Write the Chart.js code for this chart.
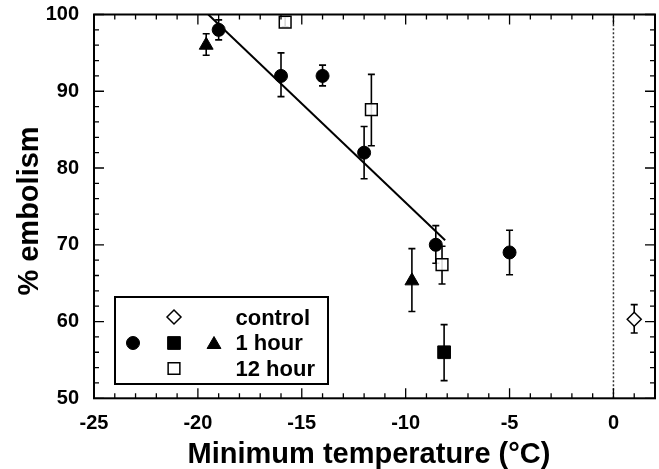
<!DOCTYPE html>
<html><head><meta charset="utf-8">
<script src="https://cdn.jsdelivr.net/npm/chart.js@4"></script>
<style>html,body{margin:0;padding:0;background:#fff}#wrap{width:659px;height:469px;position:relative}</style>
</head><body><div id="wrap"><canvas id="c" width="659" height="469"></canvas></div>
<script>
// ---- data ----
const ctrlX = [1],     ctrlY = [60.3], ctrlLo = [58.5], ctrlHi = [62.2];
const circX = [-19, -16, -14, -12, -8.55, -5];
const circY = [98, 92, 92, 82, 70, 69];
const circLo = [96.7, 89.3, 90.7, 78.6, 67.6, 66.1];
const circHi = [99.3, 95.0, 93.4, 85.4, 72.5, 71.9];
const triX = [-19.6, -9.7], triY = [96, 65.3], triLo = [94.7, 61.3], triHi = [97.5, 69.5];
const sqX = [-8.15], sqY = [56], sqLo = [52.3], sqHi = [59.6];
const openX = [-15.8, -11.65, -8.25], openY = [99, 87.6, 67.4];
const openLo = [98.4, 82.9, 64.9], openHi = [99.7, 92.2, 69.8];
const fitX = [-19.5, -8.1], fitY = [100, 70.6];
const zeroX = [0, 0], zeroY = [50, 100];
const xTicks = [-25, -20, -15, -10, -5, 0];
const yTicks = [50, 60, 70, 80, 90, 100];
const legendLabels = ['control', '1 hour', '12 hour'];
const xTitle = 'Minimum temperature (°C)';
const yTitle = '% embolism';

const FONT = "'Liberation Sans', Arial, Helvetica, sans-serif";
const pts = (xs, ys) => xs.map((x, i) => ({x: x, y: ys[i]}));

const drawMarker = (ctx, style, r, x, y, fill, bw) => {
  ctx.save();
  ctx.fillStyle = fill; ctx.strokeStyle = '#000'; ctx.lineWidth = bw;
  if (Chart.helpers && Chart.helpers.drawPoint) {
    Chart.helpers.drawPoint(ctx, {pointStyle: style, radius: r, borderWidth: bw, rotation: 0}, x, y);
  } else {
    ctx.beginPath(); ctx.arc(x, y, r, 0, Math.PI * 2); ctx.fill(); ctx.stroke();
  }
  ctx.restore();
};

const customPlugin = {
  id: 'custom',
  beforeDatasetsDraw(chart) {
    const ctx = chart.ctx, xs = chart.scales.x, ys = chart.scales.y;
    ctx.save();
    ctx.strokeStyle = '#000'; ctx.lineWidth = 1.6;
    chart.data.datasets.forEach(ds => {
      if (!ds.lo) return;
      ds.data.forEach((p, i) => {
        const px = xs.getPixelForValue(p.x);
        const yl = ys.getPixelForValue(ds.lo[i]);
        const yh = ys.getPixelForValue(ds.hi[i]);
        ctx.beginPath();
        ctx.moveTo(px, yl); ctx.lineTo(px, yh);
        ctx.moveTo(px - 3.5, yl); ctx.lineTo(px + 3.5, yl);
        ctx.moveTo(px - 3.5, yh); ctx.lineTo(px + 3.5, yh);
        ctx.stroke();
      });
    });
    ctx.restore();
  },
  afterDraw(chart) {
    const ctx = chart.ctx, xs = chart.scales.x, ys = chart.scales.y;
    const a = chart.chartArea;
    ctx.save();
    // frame
    ctx.strokeStyle = '#000'; ctx.lineWidth = 2;
    ctx.strokeRect(a.left, a.top, a.right - a.left, a.bottom - a.top);
    ctx.lineWidth = 1.3;
    ctx.beginPath();
    for (let v = xs.min; v <= xs.max; v += 1) {
      const px = xs.getPixelForValue(v);
      const len = (v % 5 === 0) ? 10 : 5;
      ctx.moveTo(px, a.bottom); ctx.lineTo(px, a.bottom - len);
      ctx.moveTo(px, a.top); ctx.lineTo(px, a.top + len);
    }
    for (let v = ys.min; v <= ys.max; v += 2) {
      const py = ys.getPixelForValue(v);
      const len = (v % 10 === 0) ? 10 : 5;
      ctx.moveTo(a.left, py); ctx.lineTo(a.left + len, py);
      ctx.moveTo(a.right, py); ctx.lineTo(a.right - len, py);
    }
    ctx.stroke();
    // axis titles
    ctx.fillStyle = '#000';
    ctx.font = 'bold 29px ' + FONT;
    ctx.textAlign = 'center'; ctx.textBaseline = 'alphabetic';
    ctx.fillText(xTitle, 369, 463);
    ctx.save();
    ctx.translate(38, 211); ctx.rotate(-Math.PI / 2);
    ctx.fillText(yTitle, 0, 0);
    ctx.restore();
    // legend
    const L = {x: 115, y: 297, w: 213, h: 87};
    ctx.fillStyle = '#fff';
    ctx.fillRect(L.x, L.y, L.w, L.h);
    ctx.lineWidth = 2; ctx.strokeStyle = '#000';
    ctx.strokeRect(L.x, L.y, L.w, L.h);
    const rows = [317, 343, 368.5];
    drawMarker(ctx, 'rectRot', 7, 174, rows[0], '#fff', 1.5);
    drawMarker(ctx, 'circle', 6.5, 133, rows[1], '#000', 1);
    drawMarker(ctx, 'rect', 9, 174, rows[1], '#000', 1);
    drawMarker(ctx, 'triangle', 8, 214, rows[1] + 1.5, '#000', 1);
    drawMarker(ctx, 'rect', 8.3, 174, rows[2], '#fff', 1.5);
    ctx.fillStyle = '#000';
    ctx.font = 'bold 22px ' + FONT;
    ctx.textAlign = 'left'; ctx.textBaseline = 'alphabetic';
    ctx.fillText(legendLabels[0], 235.5, 324.5);
    ctx.fillText(legendLabels[1], 235.5, 350);
    ctx.fillText(legendLabels[2], 235.5, 375.5);
    ctx.restore();
  }
};

const tickFont = {family: FONT, weight: 'bold', size: 20};

new Chart(document.getElementById('c'), {
  type: 'scatter',
  data: {
    datasets: [
      {label: 'control', data: pts(ctrlX, ctrlY), lo: ctrlLo, hi: ctrlHi,
       pointStyle: 'rectRot', pointRadius: 7, borderColor: '#000', backgroundColor: '#fff', borderWidth: 1.5},
      {label: '1 hour circle', data: pts(circX, circY), lo: circLo, hi: circHi,
       pointStyle: 'circle', pointRadius: 6.5, borderColor: '#000', backgroundColor: '#000', borderWidth: 1},
      {label: '1 hour square', data: pts(sqX, sqY), lo: sqLo, hi: sqHi,
       pointStyle: 'rect', pointRadius: 9, borderColor: '#000', backgroundColor: '#000', borderWidth: 1},
      {label: '1 hour triangle', data: pts(triX, triY), lo: triLo, hi: triHi,
       pointStyle: 'triangle', pointRadius: 8, borderColor: '#000', backgroundColor: '#000', borderWidth: 1},
      {label: '12 hour', data: pts(openX, openY), lo: openLo, hi: openHi,
       pointStyle: 'rect', pointRadius: 8.3, borderColor: '#000', backgroundColor: 'rgba(255,255,255,0.85)', borderWidth: 1.5},
      {label: 'fit', data: pts(fitX, fitY), showLine: true, pointRadius: 0,
       borderColor: '#000', borderWidth: 2, fill: false},
      {label: 'zero', data: pts(zeroX, zeroY), showLine: true, pointRadius: 0,
       borderColor: '#333', borderWidth: 1.5, borderDash: [2, 2], fill: false}
    ]
  },
  options: {
    responsive: false, animation: false, devicePixelRatio: 1,
    layout: {autoPadding: false, padding: {top: 14.5, right: 4, left: 0, bottom: 0}},
    plugins: {legend: {display: false}, tooltip: {enabled: false}},
    scales: {
      x: {type: 'linear', min: -25, max: 2,
          ticks: {stepSize: 5, includeBounds: false, font: tickFont, color: '#000', padding: 13, autoSkip: false, maxRotation: 0},
          grid: {display: false, drawTicks: false}, border: {display: false},
          afterFit(s) { s.height = 70.7; s.paddingLeft = 0; s.paddingRight = 0; }},
      y: {type: 'linear', min: 50, max: 100,
          ticks: {stepSize: 10, includeBounds: false, font: tickFont, color: '#000', padding: 15},
          grid: {display: false, drawTicks: false}, border: {display: false},
          afterFit(s) { s.width = 94; s.paddingTop = 0; s.paddingBottom = 0; }}
    }
  },
  plugins: [customPlugin]
});
</script>
</body></html>
